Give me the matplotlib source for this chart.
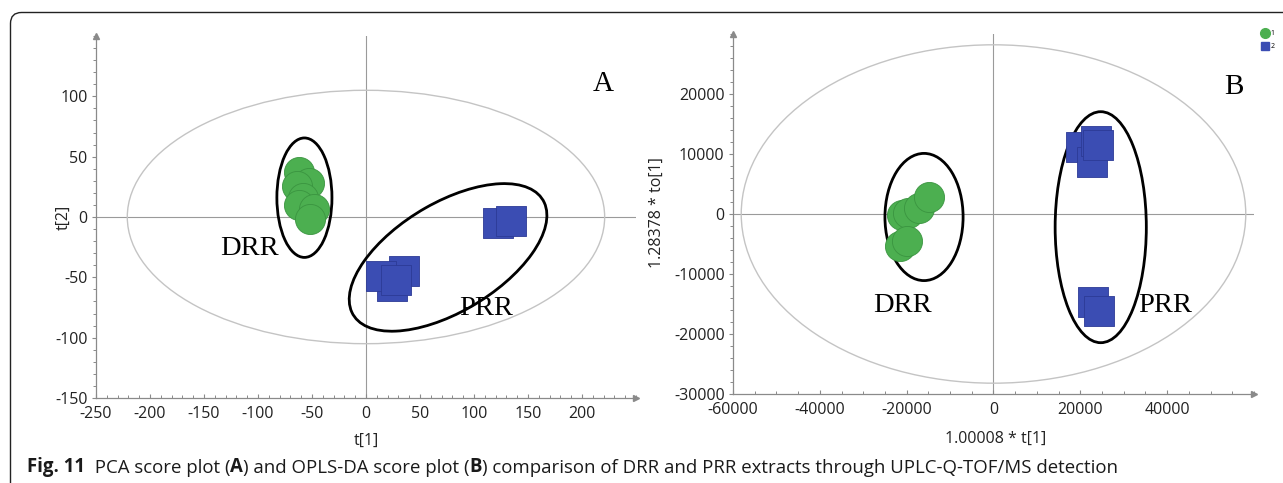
import matplotlib
matplotlib.use("Agg")
import matplotlib.pyplot as plt
from matplotlib.patches import Ellipse, FancyBboxPatch
from matplotlib.lines import Line2D
from matplotlib.ticker import MultipleLocator
from matplotlib.transforms import IdentityTransform

plt.rcParams['font.family'] = ['Open Sans', 'DejaVu Sans']
plt.rcParams['axes.unicode_minus'] = False

# PCA scores (panel A)
pca_drr_t1 = [-62, -53, -64, -58, -62, -48, -52]
pca_drr_t2 = [37, 28, 26, 16, 10, 7, -2]
pca_prr_t1 = [35, 24, 14, 28, 122, 134]
pca_prr_t2 = [-45, -57, -49, -52, -5, -3]

# OPLS-DA scores (panel B)
opls_drr_t1 = [-21000, -19600, -17200, -14900, -21500, -20000]
opls_drr_to1 = [-100, 200, 1000, 2900, -5400, -4500]
opls_prr_t1 = [20200, 22600, 23500, 24000, 23000, 24200]
opls_prr_to1 = [11200, 8600, 12200, 11500, -14600, -16200]

# group ellipses: (centre x, centre y, width, height, angle)
pca_t2_ellipse = (0, 0, 442, 210, 0)
pca_drr_ellipse = (-57, 16, 51, 99, 0)
pca_prr_ellipse = (76, -33.5, 200, 92, 27)
opls_t2_ellipse = (0, 0, 116200, 56400, 0)
opls_drr_ellipse = (-16000, -500, 18000, 21200, 0)
opls_prr_ellipse = (24700, -2200, 21000, 38500, 0)

green = '#4caf50'
green_edge = '#3a9440'
blue = '#3b4db3'
blue_edge = '#2c3a96'
axis_grey = '#8a8a8a'
serif = ['Liberation Serif', 'DejaVu Serif']


def style_axes(ax, xlim, ylim, xticks, yticks, xminor, yminor):
    ax.set_xlim(*xlim)
    ax.set_ylim(*ylim)
    ax.set_xticks(xticks)
    ax.set_yticks(yticks)
    ax.xaxis.set_minor_locator(MultipleLocator(xminor))
    ax.yaxis.set_minor_locator(MultipleLocator(yminor))
    for s in ['top', 'right']:
        ax.spines[s].set_visible(False)
    for s in ['left', 'bottom']:
        ax.spines[s].set_color(axis_grey)
        ax.spines[s].set_linewidth(0.9)
    ax.tick_params(axis='x', which='both', direction='in', color=axis_grey,
                   labelsize=11.5, labelcolor='#222222', pad=6)
    ax.tick_params(axis='y', which='both', direction='out', color=axis_grey,
                   labelsize=11.5, labelcolor='#222222', pad=3)
    ax.tick_params(which='major', length=3, width=0.8)
    ax.tick_params(which='minor', length=2, width=0.7)
    ax.axhline(0, color='#9a9a9a', lw=0.8, zorder=1)
    ax.axvline(0, color='#9a9a9a', lw=0.8, zorder=1)
    ax.plot([1], [0], marker='>', ms=5, color=axis_grey, transform=ax.transAxes, clip_on=False)
    ax.plot([0], [1], marker='^', ms=5, color=axis_grey, transform=ax.transAxes, clip_on=False)


def add_ellipse(ax, e, color, lw):
    cx, cy, w, h, ang = e
    ax.add_patch(Ellipse((cx, cy), w, h, angle=ang, fill=False, ec=color, lw=lw, zorder=2))


fig = plt.figure(figsize=(12.83, 4.83), dpi=100)

# panel A
ax_a = fig.add_axes([0.0748, 0.176, 0.4209, 0.7495])
style_axes(ax_a, (-250, 250), (-150, 150), range(-250, 201, 50), range(-150, 101, 50), 10, 10)
add_ellipse(ax_a, pca_t2_ellipse, '#c4c4c4', 1.0)
add_ellipse(ax_a, pca_drr_ellipse, 'black', 2.0)
add_ellipse(ax_a, pca_prr_ellipse, 'black', 2.0)
ax_a.scatter(pca_drr_t1, pca_drr_t2, s=470, marker='o', color=green, edgecolors=green_edge, linewidths=0.6, zorder=3)
ax_a.scatter(pca_prr_t1, pca_prr_t2, s=436, marker='s', color=blue, edgecolors=blue_edge, linewidths=0.6, zorder=3)
ax_a.set_xlabel('t[1]', fontsize=11.5, color='#222222')
ax_a.set_ylabel('t[2]', fontsize=11.5, color='#222222')
ax_a.xaxis.set_label_coords(0.5, -0.096)
ax_a.yaxis.set_label_coords(-0.046, 0.5)
ax_a.text(220, 110, 'A', fontsize=21, family=serif, ha='center', va='center')
ax_a.text(-108, -26, 'DRR', fontsize=20.5, family=serif, ha='center', va='center')
ax_a.text(111, -76, 'PRR', fontsize=20.5, family=serif, ha='center', va='center')

# panel B
ax_b = fig.add_axes([0.5713, 0.1843, 0.4061, 0.7453])
style_axes(ax_b, (-60000, 60000), (-30000, 30000), range(-60000, 40001, 20000),
           range(-30000, 20001, 10000), 5000, 2000)
add_ellipse(ax_b, opls_t2_ellipse, '#c4c4c4', 1.0)
add_ellipse(ax_b, opls_drr_ellipse, 'black', 2.0)
add_ellipse(ax_b, opls_prr_ellipse, 'black', 2.0)
ax_b.scatter(opls_drr_t1, opls_drr_to1, s=470, marker='o', color=green, edgecolors=green_edge, linewidths=0.6, zorder=3)
ax_b.scatter(opls_prr_t1, opls_prr_to1, s=436, marker='s', color=blue, edgecolors=blue_edge, linewidths=0.6, zorder=3)
ax_b.set_xlabel('1.00008 * t[1]', fontsize=11.5, color='#222222')
ax_b.set_ylabel('1.28378 * to[1]', fontsize=11.5, color='#222222')
ax_b.xaxis.set_label_coords(0.505, -0.102)
ax_b.yaxis.set_label_coords(-0.131, 0.503)
ax_b.text(55400, 21100, 'B', fontsize=21, family=serif, ha='center', va='center')
ax_b.text(-21000, -15300, 'DRR', fontsize=20.5, family=serif, ha='center', va='center')
ax_b.text(39600, -15300, 'PRR', fontsize=20.5, family=serif, ha='center', va='center')

# tiny class legend, top right
handles = [Line2D([], [], ls='', marker='o', ms=7, color=green),
           Line2D([], [], ls='', marker='s', ms=6, color=blue)]
fig.legend(handles, ['1', '2'], loc='upper left', bbox_to_anchor=(0.9835, 0.938),
           frameon=False, fontsize=5, handlelength=0.9, handletextpad=0.3,
           labelspacing=0.9, borderpad=0, borderaxespad=0)

# caption with bold pieces
pieces = [('Fig. 11', 'bold'), ('  PCA score plot (', 'normal'), ('A', 'bold'),
          (') and OPLS-DA score plot (', 'normal'), ('B', 'bold'),
          (') comparison of DRR and PRR extracts through UPLC-Q-TOF/MS detection', 'normal')]
prev = fig.text(0.021, 0.012, pieces[0][0], fontsize=13.4, fontweight=pieces[0][1],
                va='bottom', ha='left', color='#1a1a1a')
for txt, w in pieces[1:]:
    prev = ax_a.annotate(txt, xy=(1, 0), xycoords=prev, va='bottom', ha='left',
                         fontsize=13.4, fontweight=w, color='#1a1a1a', annotation_clip=False)

# rounded frame around the figure panel
frame = FancyBboxPatch((10.5, -60), 1400, 483 - 12.5 + 60, boxstyle='round,pad=0,rounding_size=11',
                       transform=IdentityTransform(), fill=False, ec='#222222', lw=1.0)
fig.add_artist(frame)

fig.savefig('out.png', dpi=100)
